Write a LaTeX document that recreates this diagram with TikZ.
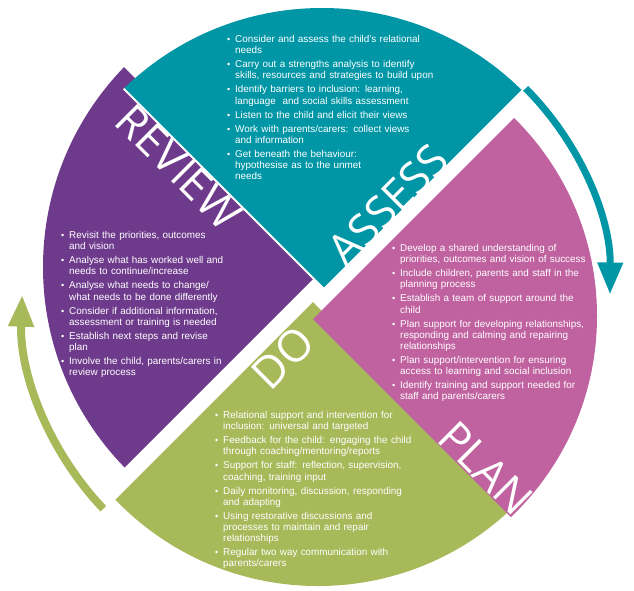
\documentclass[tikz,border=0pt]{standalone}
\usepackage{fontspec}
\setmainfont{Liberation Sans}
\newfontfamily\headfont{Open Sans}
\usepackage{enumitem}
\usetikzlibrary{arrows.meta}

\definecolor{assesscol}{RGB}{0,150,166}
\definecolor{plancol}{RGB}{192,98,160}
\definecolor{docol}{RGB}{168,185,90}
\definecolor{reviewcol}{RGB}{110,58,140}

\newenvironment{steplist}{\begin{itemize}[nosep,leftmargin=11pt,itemsep=2.8pt,label={\small\textbullet}]}{\end{itemize}}

\begin{document}
\begin{tikzpicture}[x=1pt,y=-1pt,
    head/.style={text=white,font=\headfont\fontsize{44}{44}\selectfont,inner sep=0pt},
    items/.style={text=white,font=\fontsize{9.9}{11.2}\selectfont,inner sep=0pt,
                  anchor=north west,text width=#1,align=left}]
  \useasboundingbox (0,0) rectangle (634,590);

  % circle centres of the four pieces
  \coordinate (rc) at (330,267);
  \coordinate (ac) at (322,292);
  \coordinate (dc) at (318,305);
  \coordinate (pc) at (319,316);

  % review
  \begin{scope}
    \clip (rc) circle (287);
    \fill[reviewcol] (324.5,267.5) -- ++(-400,-400) -- ++(-400,400) -- ++(400,400) -- cycle;
  \end{scope}
  % assess
  \begin{scope}
    \clip (ac) circle (284);
    \filldraw[assesscol,draw=white,line width=1.8pt] (324,289) -- ++(-400,-400) -- ++(400,-400) -- ++(400,400) -- cycle;
  \end{scope}
  % do
  \begin{scope}
    \clip (dc) circle (281);
    \fill[docol] (313,302) -- ++(-400,400) -- ++(400,400) -- ++(400,-400) -- cycle;
  \end{scope}
  % plan
  \begin{scope}
    \clip (pc) circle (278);
    \fill[plancol] (313,319) -- ++(400,-400) -- ++(400,400) -- ++(-400,400) -- cycle;
  \end{scope}

  % cycle arrows
  \draw[assesscol,line width=7pt,-{Triangle[width=24pt,length=32pt]}]
    ([shift={(-45:288)}]ac) arc[start angle=-45,end angle=0.5,radius=288];
  \draw[docol,line width=8pt,-{Triangle[width=24pt,length=32pt]}]
    ([shift={(136.5:296)}]dc) arc[start angle=136.5,end angle=182,radius=296];

  % headings
  \node[head,rotate=-45] (review) at (179,167) {REVIEW};
  \node[head,rotate=45] (assess) at (388,205) {ASSESS};
  \node[head,rotate=45] (do) at (283,358) {DO};
  \node[head,rotate=-45] (plan) at (486,468) {PLAN};

  % lists
  \node[items=225pt] (assesslist) at (224,31) {\begin{steplist}
    \item Consider and assess the child's relational\\needs
    \item Carry out a strengths analysis to identify\\skills, resources and strategies to build upon
    \item Identify barriers to inclusion: learning,\\language~ and social skills assessment
    \item Listen to the child and elicit their views
    \item Work with parents/carers: collect views\\and information
    \item Get beneath the behaviour:\\hypothesise as to the unmet\\needs
  \end{steplist}};
  \node[items=210pt] (reviewlist) at (58,227) {\begin{steplist}
    \item Revisit the priorities, outcomes\\and vision
    \item Analyse what has worked well and\\needs to continue/increase
    \item Analyse what needs to change/\\what needs to be done differently
    \item Consider if additional information,\\assessment or training is needed
    \item Establish next steps and revise\\plan
    \item Involve the child, parents/carers in\\review process
  \end{steplist}};
  \node[items=215pt] (planlist) at (389,240) {\begin{steplist}
    \item Develop a shared understanding of\\priorities, outcomes and vision of success
    \item Include children, parents and staff in the\\planning process
    \item Establish a team of support around the\\child
    \item Plan support for developing relationships,\\responding and calming and repairing\\relationships
    \item Plan support/intervention for ensuring\\access to learning and social inclusion
    \item Identify training and support needed for\\staff and parents/carers
  \end{steplist}};
  \node[items=215pt] (dolist) at (212,407) {\begin{steplist}
    \item Relational support and intervention for\\inclusion: universal and targeted
    \item Feedback for the child: engaging the child\\through coaching/mentoring/reports
    \item Support for staff: reflection, supervision,\\coaching, training input
    \item Daily monitoring, discussion, responding\\and adapting
    \item Using restorative discussions and\\processes to maintain and repair\\relationships
    \item Regular two way communication with\\parents/carers
  \end{steplist}};
\end{tikzpicture}
\end{document}
